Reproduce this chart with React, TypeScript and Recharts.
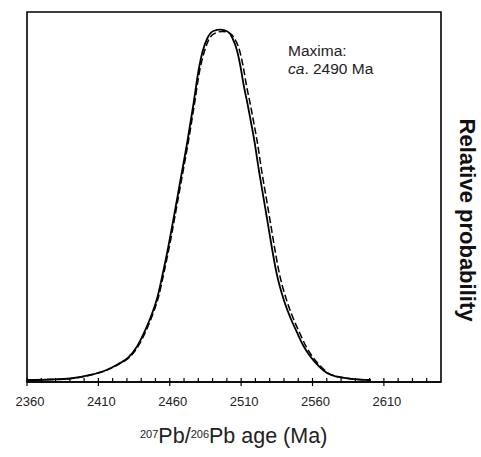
import React from 'react';
import { LineChart, Line, XAxis, YAxis, ReferenceArea } from 'recharts';

// Age (Ma) of each sampled point and its relative probability
const solidAge = [2360, 2376.3, 2390.4, 2404.4, 2414.9, 2424.0, 2431.0, 2437.3, 2442.9, 2447.2, 2451.4, 2454.9, 2458.4, 2462.6, 2467.5, 2472.4, 2476.6, 2480.1, 2482.9, 2486.4, 2490.6, 2495.5,
  2500.4, 2503.9, 2507.2, 2509.6, 2511.9, 2514.5, 2516.6, 2519.4, 2522.4, 2525.7, 2528.3, 2531.8, 2534.8, 2539.9, 2544.6, 2549.3, 2553.7, 2558.6, 2564.3, 2570.4, 2578.3, 2586.7, 2600.7];
const solidProb = [0.0057, 0.0071, 0.0099, 0.0199, 0.0326, 0.0511, 0.0695, 0.1022, 0.1476, 0.1901, 0.2412, 0.3036, 0.3717, 0.4626, 0.5732, 0.6839, 0.7889, 0.8826, 0.9365, 0.9762, 0.9961, 1.0,
  0.9947, 0.9762, 0.9393, 0.8939, 0.84, 0.7889, 0.7435, 0.6811, 0.6016, 0.5222, 0.4597, 0.3746, 0.3093, 0.2327, 0.1816, 0.1391, 0.1022, 0.0718, 0.0454, 0.0247, 0.0142, 0.0091, 0.0057];

const dashedAge = [2360, 2376.3, 2390.5, 2404.6, 2415.3, 2424.5, 2431.6, 2438.0, 2443.6, 2447.9, 2452.1, 2455.6, 2459.1, 2463.3, 2468.2, 2473.1, 2477.3, 2480.9, 2483.8, 2487.4, 2491.8, 2496.9,
  2502.0, 2505.6, 2509.0, 2511.5, 2513.8, 2516.4, 2518.5, 2521.3, 2524.3, 2527.6, 2530.2, 2533.7, 2536.7, 2541.8, 2546.4, 2551.0, 2555.3, 2560.0, 2565.5, 2571.3, 2578.9, 2587.0, 2600.9];
const dashedProb = [0.0057, 0.0071, 0.0099, 0.0199, 0.0326, 0.0511, 0.0695, 0.1022, 0.1476, 0.1901, 0.2412, 0.3036, 0.3717, 0.4626, 0.5732, 0.6839, 0.7889, 0.8826, 0.932, 0.972, 0.99, 0.995,
  0.99, 0.973, 0.9393, 0.8939, 0.84, 0.7889, 0.7435, 0.6811, 0.6016, 0.5222, 0.4597, 0.3746, 0.3093, 0.2327, 0.1816, 0.1391, 0.1022, 0.0718, 0.0454, 0.0247, 0.0142, 0.0091, 0.0057];

const tickValues = [2360, 2370, 2380, 2390, 2400, 2410, 2420, 2430, 2440, 2450, 2460, 2470, 2480, 2490, 2500, 2510, 2520, 2530, 2540, 2550, 2560, 2570, 2580, 2590, 2600, 2610, 2620, 2630, 2640];
const majorTicks = [2360, 2410, 2460, 2510, 2560, 2610];

const xDomain = [2360, 2650];
const yDomain = [0, 1.05];

const solidData = solidAge.map((a, i) => ({ age: a, p: solidProb[i] }));
const dashedData = dashedAge.map((a, i) => ({ age: a, p: dashedProb[i] }));

const FONT = '"Liberation Sans", Arial, Helvetica, sans-serif';

const AgeTick = (props: any) => {
  const { x, y, payload } = props;
  const major = majorTicks.includes(payload.value);
  return (
    <g>
      <line x1={x} x2={x} y1={y - 4} y2={major ? y + 4 : y} stroke="#000" strokeWidth={1.2} />
      {major && (
        <text x={x + 3} y={y + 24} textAnchor="middle" fontSize={13} fontFamily={FONT} fill="#222">
          {payload.value}
        </text>
      )}
    </g>
  );
};

export default function App() {
  return (
    <div style={{ position: 'absolute', left: 0, top: 0, width: 481, height: 457, background: '#fff' }}>
      <LineChart width={481} height={457} margin={{ top: 12, right: 40, bottom: 45, left: 27 }}>
        <XAxis
          type="number"
          dataKey="age"
          domain={xDomain}
          ticks={tickValues}
          interval={0}
          allowDataOverflow
          height={30}
          tickSize={0}
          tickMargin={0}
          tickLine={false}
          axisLine={{ stroke: '#000', strokeWidth: 1.5 }}
          tick={<AgeTick />}
        />
        <YAxis type="number" domain={yDomain} hide allowDataOverflow />
        <ReferenceArea
          x1={xDomain[0]}
          x2={xDomain[1]}
          y1={yDomain[0]}
          y2={yDomain[1]}
          fill="none"
          fillOpacity={0}
          stroke="#000"
          strokeWidth={1.6}
          ifOverflow="visible"
        />
        <Line
          data={solidData}
          dataKey="p"
          type="monotone"
          stroke="#000"
          strokeWidth={1.8}
          dot={false}
          isAnimationActive={false}
        />
        <Line
          data={dashedData}
          dataKey="p"
          type="monotone"
          stroke="#000"
          strokeWidth={1.5}
          strokeDasharray="7 3"
          dot={false}
          isAnimationActive={false}
        />
      </LineChart>
      <svg
        width={481}
        height={457}
        style={{ position: 'absolute', left: 0, top: 0, pointerEvents: 'none' }}
      >
        <text x={288} y={56} fontSize={15.5} fontFamily={FONT} fill="#222">Maxima:</text>
        <text x={288} y={73.5} fontSize={15.5} fontFamily={FONT} fill="#222">
          <tspan fontStyle="italic">ca</tspan>. 2490 Ma
        </text>
        <text x={140} y={443} fontSize={21.5} fontFamily={FONT} fill="#222">
          <tspan fontSize={11} dy={-5}>207</tspan>
          <tspan dy={5}>Pb/</tspan>
          <tspan fontSize={11} dy={-5}>206</tspan>
          <tspan dy={5}>Pb age (Ma)</tspan>
        </text>
        <text
          x={460}
          y={220}
          textAnchor="middle"
          fontSize={22}
          fontWeight="bold"
          fontFamily={FONT}
          fill="#111"
          transform="rotate(90, 460, 220)"
        >
          Relative probability
        </text>
      </svg>
    </div>
  );
}
